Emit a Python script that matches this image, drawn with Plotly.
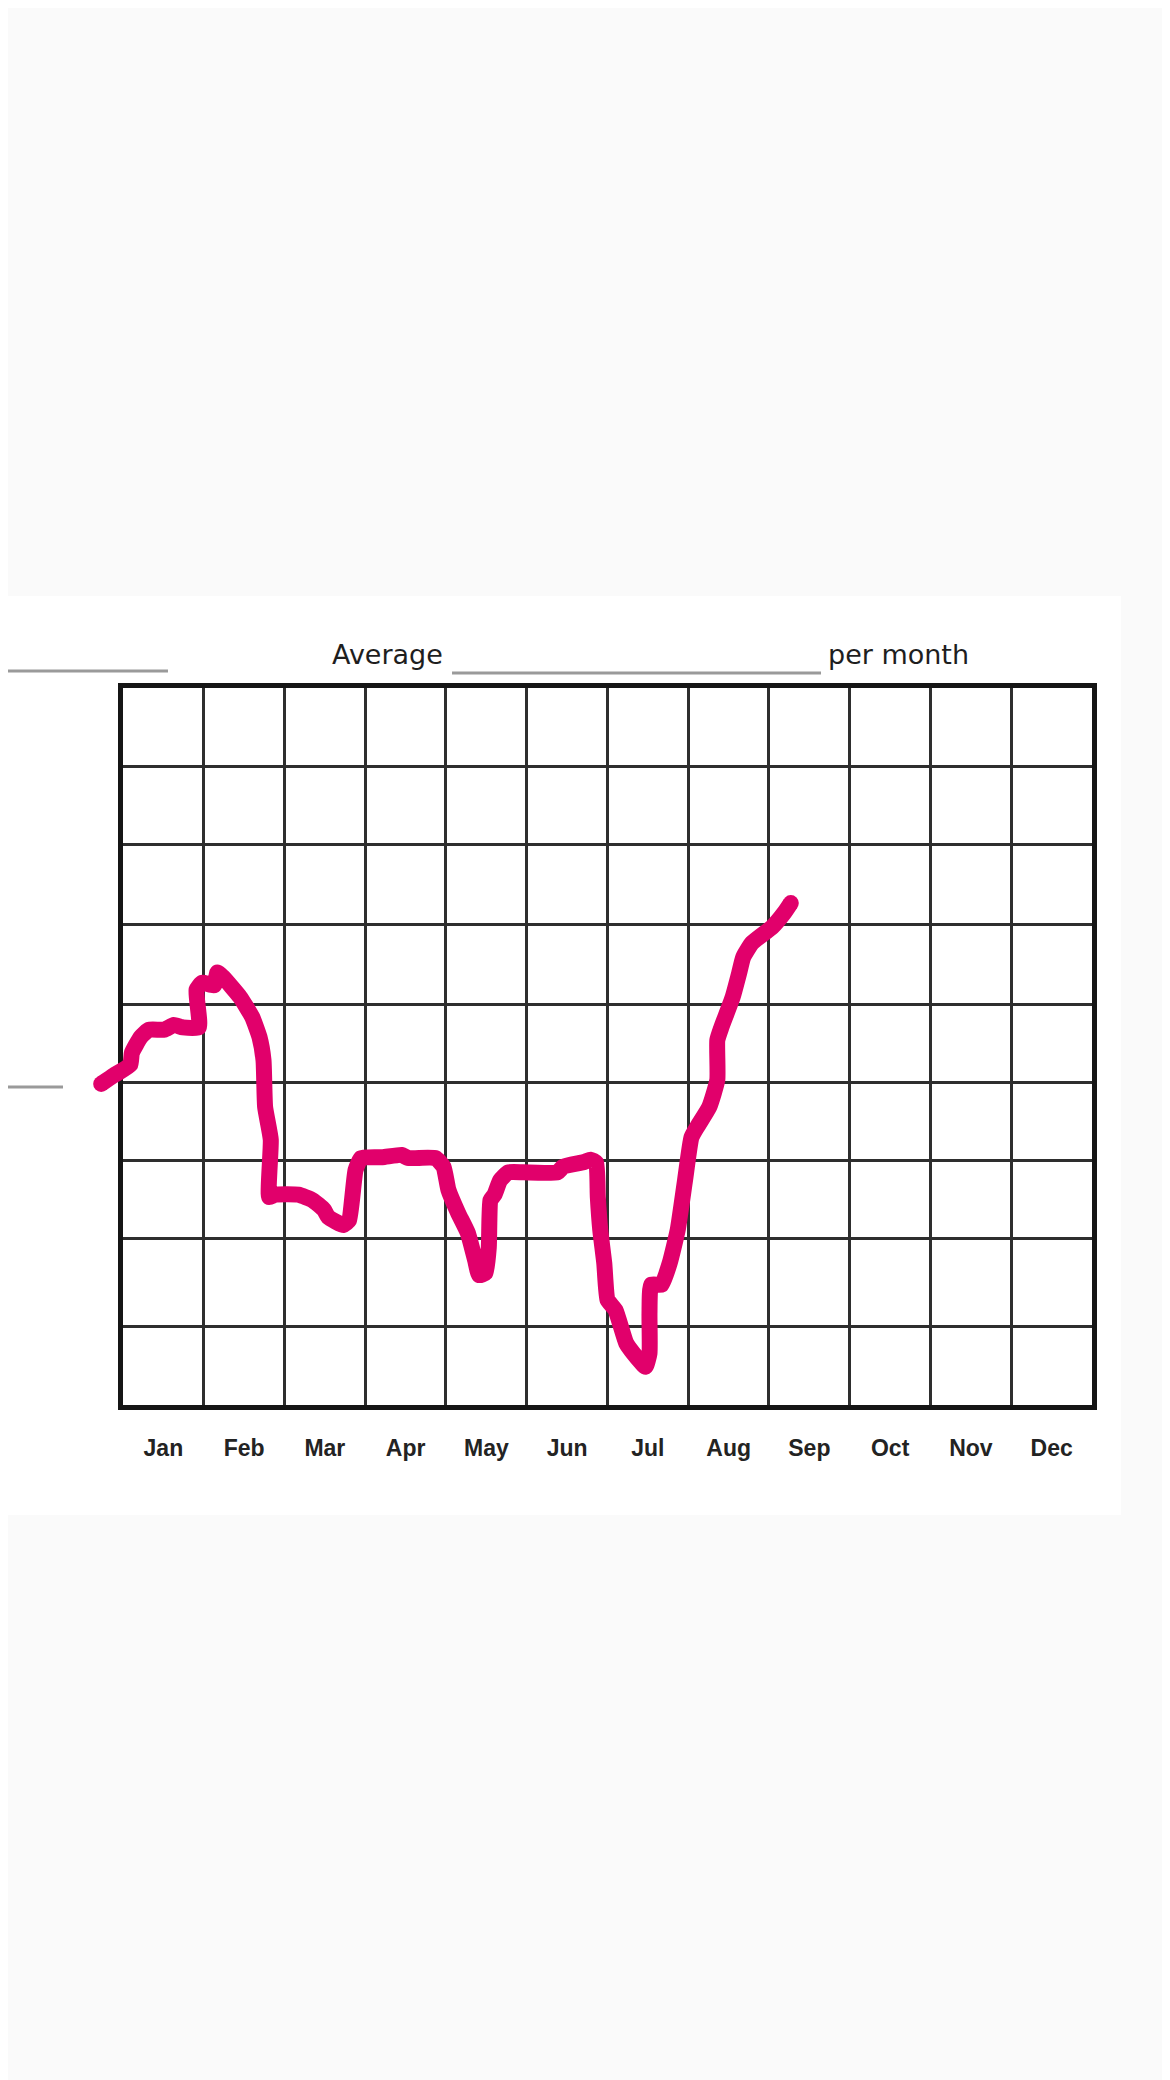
"""Monthly average chart: hand-drawn pink line over a 12x9 grid."""
import plotly.graph_objects as go

months = ["Jan", "Feb", "Mar", "Apr", "May", "Jun",
          "Jul", "Aug", "Sep", "Oct", "Nov", "Dec"]

# pink stroke, x in months from the left edge, y in grid rows from the bottom
line_x = [-0.27, -0.11, 0.09, 0.11, 0.22, 0.32, 0.51, 0.63, 0.74, 0.94,
          0.91, 0.98, 1.13, 1.17, 1.24, 1.45, 1.60, 1.69, 1.74, 1.76,
          1.83, 1.81, 1.88, 2.17, 2.35, 2.49, 2.54, 2.73, 2.80, 2.88,
          2.95, 3.21, 3.45, 3.53, 3.87, 3.97, 4.03, 4.15, 4.27, 4.36,
          4.41, 4.49, 4.53, 4.55, 4.60, 4.67, 4.77, 4.96, 5.38, 5.45,
          5.71, 5.79, 5.86, 5.88, 5.91, 5.96, 6.00, 6.10, 6.23, 6.32,
          6.47, 6.52, 6.52, 6.54, 6.67, 6.77, 6.87, 6.96, 7.04, 7.11,
          7.26, 7.36, 7.36, 7.41, 7.55, 7.63, 7.68, 7.79, 8.04, 8.19, 8.27]
line_y = [4.03, 4.14, 4.27, 4.42, 4.62, 4.71, 4.71, 4.77, 4.74, 4.74,
          5.21, 5.30, 5.27, 5.43, 5.37, 5.12, 4.87, 4.62, 4.33, 3.74,
          3.33, 2.61, 2.64, 2.64, 2.57, 2.45, 2.36, 2.26, 2.32, 2.95,
          3.10, 3.11, 3.14, 3.10, 3.10, 2.99, 2.70, 2.41, 2.16, 1.82,
          1.63, 1.66, 1.98, 2.57, 2.64, 2.82, 2.92, 2.92, 2.92, 2.99,
          3.05, 3.08, 3.04, 2.61, 2.20, 1.78, 1.32, 1.19, 0.78, 0.65,
          0.48, 0.65, 1.15, 1.51, 1.51, 1.78, 2.20, 2.82, 3.36, 3.49,
          3.74, 4.08, 4.58, 4.74, 5.12, 5.42, 5.62, 5.80, 6.00, 6.18, 6.30]

row_lines = [0.98, 2.09, 3.07, 4.05, 5.03, 6.03, 7.03, 8.01]

PINK = "#e1006b"
INK = "#151515"
GRID = "#2e2e2e"

n = len(line_x)
cap_sizes = [16] + [0] * (n - 2) + [16]

fig = go.Figure()
# empty trace so the gridded x/y subplot gets built
fig.add_trace(go.Scatter(x=[], y=[], xaxis="x", yaxis="y", hoverinfo="skip", showlegend=False))
# the stroke lives on wider twin axes so it can run past the left frame
fig.add_trace(
    go.Scatter(
        x=line_x,
        y=line_y,
        xaxis="x2",
        yaxis="y2",
        mode="lines+markers",
        line=dict(color=PINK, width=16, shape="spline", smoothing=0.45),
        marker=dict(color=PINK, size=cap_sizes, opacity=1, line=dict(width=0)),
        cliponaxis=False,
        hoverinfo="skip",
        showlegend=False,
    )
)

# white sheet on a light grey page, plus the stray rule lines of the scan
fig.add_shape(type="rect", xref="paper", yref="paper", x0=-0.0873, x1=1.0291,
              y0=-0.1534, y1=1.1283, fillcolor="white", line=dict(width=0), layer="below")
for x0, x1, y in [(-0.0873, 0.0732, 1.0237), (-0.0873, -0.0321, 0.4435), (0.3581, 0.7282, 1.0209)]:
    fig.add_shape(type="line", xref="paper", yref="paper", x0=x0, x1=x1, y0=y, y1=y,
                  line=dict(color="#9a9a9a", width=3), layer="below")

title_font = dict(family="DejaVu Sans", size=27, color="#1e1e1e")
fig.add_annotation(text="Average", xref="paper", yref="paper", x=0.3511, y=1.0474,
                   xanchor="right", yanchor="middle", showarrow=False, font=title_font)
fig.add_annotation(text="per month", xref="paper", yref="paper", x=0.7332, y=1.0474,
                   xanchor="left", yanchor="middle", showarrow=False, font=title_font)

fig.update_layout(
    xaxis=dict(
        domain=[0.02808, 1],
        range=[0, 12],
        anchor="y",
        tickvals=[i + 0.5 for i in range(12)],
        ticktext=months,
        ticks="",
        ticklabelstandoff=18,
        tickfont=dict(family="Liberation Sans", size=23, color="#232323", weight="bold"),
        showgrid=False,
        minor=dict(tick0=0, dtick=1, showgrid=True, gridcolor=GRID, gridwidth=2.5),
        zeroline=False,
        showline=True,
        mirror=True,
        linecolor=INK,
        linewidth=5,
        layer="below traces",
        fixedrange=True,
    ),
    yaxis=dict(
        range=[0, 9],
        anchor="x",
        tickvals=row_lines,
        showticklabels=False,
        ticks="",
        showgrid=True,
        gridcolor=GRID,
        gridwidth=2.5,
        zeroline=False,
        showline=True,
        mirror=True,
        linecolor=INK,
        linewidth=5,
        layer="below traces",
        fixedrange=True,
    ),
    xaxis2=dict(
        domain=[0, 1],
        range=[-0.3467, 12],
        anchor="y2",
        visible=False,
        fixedrange=True,
    ),
    yaxis2=dict(
        domain=[0, 1],
        range=[0, 9],
        anchor="x2",
        visible=False,
        fixedrange=True,
    ),
    # page body adds an 8px offset, so the figure is 8px smaller and shifted
    width=1162,
    height=2072,
    margin=dict(l=87, r=78, t=680, b=675, pad=0),
    paper_bgcolor="#fafafa",
    plot_bgcolor="rgba(0,0,0,0)",
    showlegend=False,
)

fig.write_html("out.html")
